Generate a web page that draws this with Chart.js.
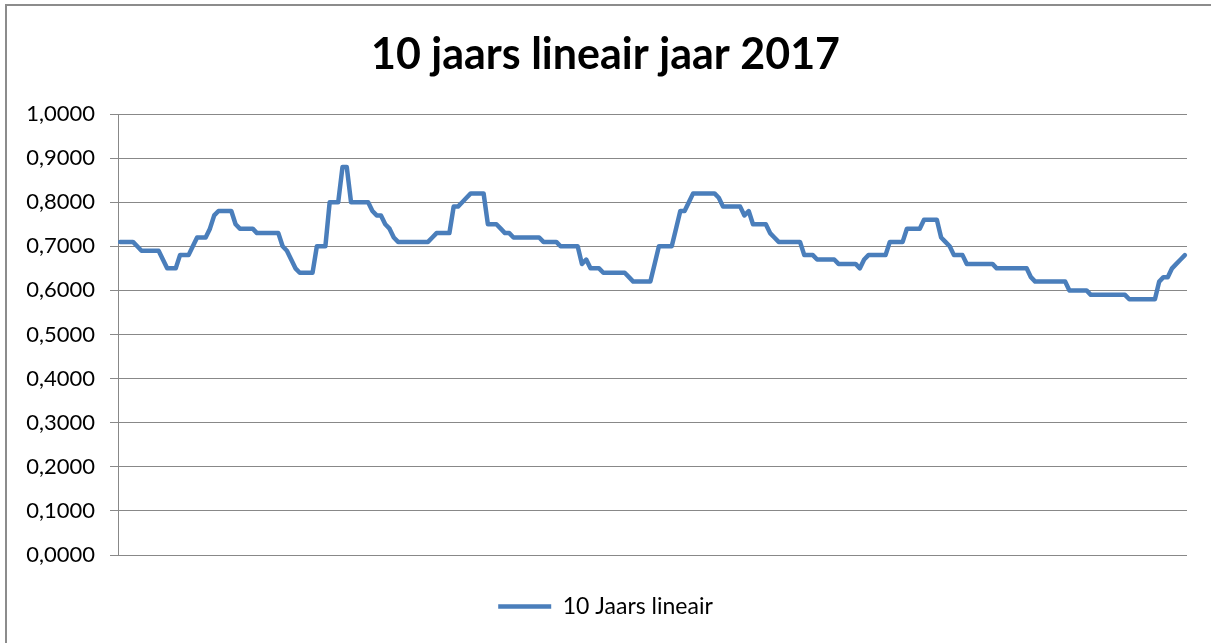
<!DOCTYPE html>
<html>
<head>
<meta charset="utf-8">
<script src="https://cdn.jsdelivr.net/npm/chart.js@4"></script>
<style>
  html, body { margin: 0; padding: 0; background: #ffffff; overflow: hidden; }
  #frame { position: absolute; left: 5px; top: 4px; width: 1300px; height: 800px; border-left: 2px solid #8c8c8c; border-top: 2px solid #8c8c8c; }
  #c { position: absolute; left: 0; top: 0; }
</style>
</head>
<body>
<div id="frame"></div>
<canvas id="c" width="1211" height="643"></canvas>
<script>
const chartTitle = '10 jaars lineair jaar 2017';
const seriesName = '10 Jaars lineair';
const yTickLabels = ['0,0000','0,1000','0,2000','0,3000','0,4000','0,5000','0,6000','0,7000','0,8000','0,9000','1,0000'];
const values = [
  0.71,0.71,0.71,0.71,0.70,0.69,0.69,0.69,0.69,0.69,
  0.67,0.65,0.65,0.65,0.68,0.68,0.68,0.70,0.72,0.72,
  0.72,0.74,0.77,0.78,0.78,0.78,0.78,0.75,0.74,0.74,
  0.74,0.74,0.73,0.73,0.73,0.73,0.73,0.73,0.70,0.69,
  0.67,0.65,0.64,0.64,0.64,0.64,0.70,0.70,0.70,0.80,
  0.80,0.80,0.88,0.88,0.80,0.80,0.80,0.80,0.80,0.78,
  0.77,0.77,0.75,0.74,0.72,0.71,0.71,0.71,0.71,0.71,
  0.71,0.71,0.71,0.72,0.73,0.73,0.73,0.73,0.79,0.79,
  0.80,0.81,0.82,0.82,0.82,0.82,0.75,0.75,0.75,0.74,
  0.73,0.73,0.72,0.72,0.72,0.72,0.72,0.72,0.72,0.71,
  0.71,0.71,0.71,0.70,0.70,0.70,0.70,0.70,0.66,0.67,
  0.65,0.65,0.65,0.64,0.64,0.64,0.64,0.64,0.64,0.63,
  0.62,0.62,0.62,0.62,0.62,0.66,0.70,0.70,0.70,0.70,
  0.74,0.78,0.78,0.80,0.82,0.82,0.82,0.82,0.82,0.82,
  0.81,0.79,0.79,0.79,0.79,0.79,0.77,0.78,0.75,0.75,
  0.75,0.75,0.73,0.72,0.71,0.71,0.71,0.71,0.71,0.71,
  0.68,0.68,0.68,0.67,0.67,0.67,0.67,0.67,0.66,0.66,
  0.66,0.66,0.66,0.65,0.67,0.68,0.68,0.68,0.68,0.68,
  0.71,0.71,0.71,0.71,0.74,0.74,0.74,0.74,0.76,0.76,
  0.76,0.76,0.72,0.71,0.70,0.68,0.68,0.68,0.66,0.66,
  0.66,0.66,0.66,0.66,0.66,0.65,0.65,0.65,0.65,0.65,
  0.65,0.65,0.65,0.63,0.62,0.62,0.62,0.62,0.62,0.62,
  0.62,0.62,0.60,0.60,0.60,0.60,0.60,0.59,0.59,0.59,
  0.59,0.59,0.59,0.59,0.59,0.59,0.58,0.58,0.58,0.58,
  0.58,0.58,0.58,0.62,0.63,0.63,0.65,0.66,0.67,0.68
];
const categories = values.map((v, i) => 'dag ' + (i + 1));

const lineColor = '#4a7ebb';
const gridColor = '#888888';
const textColor = '#000000';
const fontFamily = 'Lato, "Open Sans", sans-serif';

new Chart(document.getElementById('c'), {
  type: 'line',
  data: {
    labels: categories,
    datasets: [{
      label: seriesName,
      data: values,
      yAxisID: 'y',
      borderColor: lineColor,
      backgroundColor: lineColor,
      borderWidth: 4.5,
      pointRadius: 0,
      pointHoverRadius: 0,
      tension: 0,
      fill: false,
      borderJoinStyle: 'round',
      borderCapStyle: 'round'
    }]
  },
  options: {
    responsive: false,
    animation: false,
    devicePixelRatio: 1,
    layout: { padding: { left: 0, right: 0, top: 0, bottom: 15 } },
    plugins: {
      tooltip: { enabled: false },
      title: {
        display: true,
        text: chartTitle,
        color: textColor,
        font: { family: fontFamily, size: 43, weight: 'bold', lineHeight: 1.2 },
        padding: { top: 29, bottom: 33.4 }
      },
      legend: {
        display: true,
        position: 'bottom',
        labels: {
          color: textColor,
          font: { family: fontFamily, size: 23 },
          usePointStyle: true,
          pointStyle: 'line',
          pointStyleWidth: 53,
          boxHeight: 22,
          padding: 10
        }
      }
    },
    scales: {
      x: {
        type: 'category',
        offset: true,
        grid: { display: false, drawTicks: false },
        border: { display: false },
        ticks: { display: false },
        afterFit: (scale) => { scale.height = 30; }
      },
      y: {
        position: 'left',
        min: 0,
        max: 1,
        ticks: {
          stepSize: 0.1,
          color: textColor,
          padding: 15,
          font: { family: fontFamily, size: 22 },
          callback: (value, index) => yTickLabels[index]
        },
        grid: { color: gridColor, lineWidth: 1, tickLength: 8, drawTicks: true },
        border: { display: true, color: gridColor, width: 1 },
        afterFit: (scale) => { scale.width = 118; }
      },
      yRightSpace: {
        position: 'right',
        min: 0,
        max: 1,
        grid: { display: false, drawTicks: false },
        border: { display: false },
        ticks: { display: false },
        afterFit: (scale) => { scale.width = 24; }
      }
    }
  }
});
</script>
</body>
</html>
